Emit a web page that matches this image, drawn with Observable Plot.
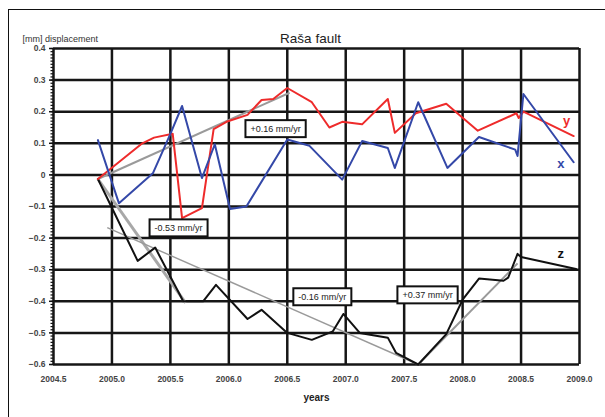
<!DOCTYPE html>
<html>
<head>
<meta charset="utf-8">
<script src="https://cdn.jsdelivr.net/npm/d3@7"></script>
<script src="https://cdn.jsdelivr.net/npm/@observablehq/plot@0.6"></script>
<style>
  html, body { margin: 0; padding: 0; background: #fff; }
  #wrap { position: relative; width: 605px; height: 417px; overflow: hidden; font-family: "Liberation Sans", Arial, sans-serif; }
  #frame { position: absolute; left: 8px; top: 9px; width: 620px; height: 430px; border-top: 1.6px solid #111; border-left: 1.6px solid #111; pointer-events: none; }
  svg { display: block; }
</style>
</head>
<body>
<div id="wrap"><div id="frame"></div></div>
<script>
// ---- tick labels / axes ----
const xTicks = [2004.5, 2005.0, 2005.5, 2006.0, 2006.5, 2007.0, 2007.5, 2008.0, 2008.5, 2009.0];
const yTicks = [-0.6, -0.5, -0.4, -0.3, -0.2, -0.1, 0, 0.1, 0.2, 0.3, 0.4];
const yMinor = d3.range(-60, 41).map(i => i / 100);

// ---- series x (blue) ----
const xYears = [2004.88, 2005.06, 2005.35, 2005.50, 2005.60, 2005.77, 2005.88, 2006.01, 2006.15, 2006.50, 2006.69, 2006.97, 2007.14, 2007.36, 2007.42, 2007.62, 2007.87, 2008.14, 2008.45, 2008.47, 2008.52, 2008.95];
const xVals  = [0.11, -0.09, 0.005, 0.13, 0.218, -0.01, 0.097, -0.108, -0.10, 0.112, 0.092, -0.015, 0.107, 0.085, 0.022, 0.23, 0.022, 0.12, 0.08, 0.06, 0.256, 0.04];

// ---- series y (red) ----
const yYears = [2004.88, 2005.26, 2005.36, 2005.52, 2005.60, 2005.77, 2005.87, 2005.98, 2006.16, 2006.28, 2006.38, 2006.50, 2006.71, 2006.86, 2006.97, 2007.14, 2007.36, 2007.42, 2007.60, 2007.86, 2008.13, 2008.46, 2008.48, 2008.52, 2008.95];
const yVals  = [-0.013, 0.10, 0.118, 0.13, -0.137, -0.105, 0.145, 0.168, 0.19, 0.237, 0.24, 0.275, 0.23, 0.15, 0.168, 0.16, 0.24, 0.133, 0.195, 0.225, 0.14, 0.195, 0.18, 0.20, 0.123];

// ---- series z (black) ----
const zYears = [2004.88, 2005.22, 2005.37, 2005.61, 2005.78, 2005.89, 2006.16, 2006.28, 2006.50, 2006.71, 2006.89, 2006.98, 2007.12, 2007.36, 2007.43, 2007.62, 2007.86, 2008.00, 2008.14, 2008.35, 2008.39, 2008.47, 2008.50, 2008.97];
const zVals  = [-0.013, -0.272, -0.23, -0.40, -0.40, -0.348, -0.456, -0.427, -0.50, -0.522, -0.495, -0.44, -0.50, -0.515, -0.563, -0.60, -0.504, -0.395, -0.328, -0.335, -0.325, -0.25, -0.26, -0.298];

// ---- trend lines ----
const trendLabels = ["+0.16 mm/yr", "-0.53 mm/yr", "-0.16 mm/yr", "+0.37 mm/yr"];
const trendX1 = [2004.88, 2004.88, 2004.96, 2007.62];
const trendY1 = [-0.013, -0.013, -0.167, -0.60];
const trendX2 = [2006.52, 2005.63, 2007.62, 2008.47];
const trendY2 = [0.26, -0.405, -0.60, -0.28];
const trendWidth = [2, 3, 1.4, 2];
const trendColor = ["#9a9a9a", "#a8a8a8", "#9a9a9a", "#9a9a9a"];
// label anchor (data units)
const labelX = [2006.40, 2005.57, 2006.80, 2007.70];
const labelY = [0.146, -0.168, -0.386, -0.38];

// ---- series name labels ----
const seriesNames = ["y", "x", "z"];
const seriesColors = ["#ee2b2b", "#3448a8", "#111"];
const nameX = [2008.89, 2008.84, 2008.84];
const nameY = [0.171, 0.035, -0.25];

const toPts = (xs, vs) => xs.map((t, i) => ({t, v: vs[i]}));
const trends = trendLabels.map((l, i) => ({l, x1: trendX1[i], y1: trendY1[i], x2: trendX2[i], y2: trendY2[i], w: trendWidth[i], c: trendColor[i], lx: labelX[i], ly: labelY[i]}));
const names = seriesNames.map((n, i) => ({n, c: seriesColors[i], x: nameX[i], y: nameY[i]}));

const grid = "#161616";
const chart = Plot.plot({
  width: 605,
  height: 417,
  marginLeft: 53,
  marginRight: 26,
  marginTop: 48,
  marginBottom: 53,
  style: {fontFamily: "Liberation Sans, Arial, sans-serif", background: "transparent"},
  x: {domain: [2004.5, 2009.0], axis: null},
  y: {domain: [-0.6, 0.4], axis: null},
  marks: [
    Plot.ruleX(xTicks, {stroke: grid, strokeWidth: 2.5}),
    Plot.ruleY(yTicks, {stroke: grid, strokeWidth: 2.5}),
    Plot.axisY(yMinor, {tickSize: 2.5, tickFormat: () => "", stroke: "#111", strokeWidth: 1.2, label: null}),
    Plot.axisY(yTicks, {tickSize: 4, tickPadding: 4, tickFormat: d => d === 0 ? "0" : d3.format(".1f")(d), fontSize: 8.5, fill: "#444", stroke: "#111", strokeWidth: 1.5, fontWeight: "bold", label: null}),
    Plot.axisX(xTicks, {tickSize: 0, tickPadding: 11, tickFormat: d3.format(".1f"), fontSize: 8.5, fill: "#444", fontWeight: "bold", label: null}),
    Plot.link(trends, {x1: "x1", y1: "y1", x2: "x2", y2: "y2", stroke: "c", strokeWidth: "w"}),
    Plot.line(toPts(zYears, zVals), {x: "t", y: "v", stroke: "#111", strokeWidth: 2}),
    Plot.line(toPts(yYears, yVals), {x: "t", y: "v", stroke: "#ee2b2b", strokeWidth: 2}),
    Plot.line(toPts(xYears, xVals), {x: "t", y: "v", stroke: "#3448a8", strokeWidth: 2}),
    Plot.text(trends, {x: "lx", y: "ly", text: "l", fontSize: 9, fill: "#222"}),
    Plot.text(names, {x: "x", y: "y", text: "n", fill: "c", fontSize: 13, fontWeight: "bold"}),
    Plot.text(["Raša fault"], {frameAnchor: "top", dx: -6, dy: -15, fontSize: 13.5, fill: "#222"}),
    Plot.text(["[mm] displacement"], {frameAnchor: "top-left", textAnchor: "start", dx: -31, dy: -13, fontSize: 9, fill: "#333"}),
    Plot.text(["years"], {frameAnchor: "bottom", dy: 36, fontSize: 10, fontWeight: "bold", fill: "#222"})
  ]
});
document.getElementById("wrap").prepend(chart);

// white boxes with black border behind the trend labels
chart.querySelectorAll("text").forEach(t => {
  if (!trendLabels.includes(t.textContent)) return;
  const b = t.getBBox();
  const r = document.createElementNS("http://www.w3.org/2000/svg", "rect");
  r.setAttribute("x", b.x - 5);
  r.setAttribute("y", b.y - 3.5);
  r.setAttribute("width", b.width + 10);
  r.setAttribute("height", b.height + 7);
  r.setAttribute("fill", "#fff");
  r.setAttribute("stroke", "#111");
  r.setAttribute("stroke-width", 2);
  if (t.getAttribute("transform")) r.setAttribute("transform", t.getAttribute("transform"));
  t.parentNode.insertBefore(r, t);
});
</script>
</body>
</html>
